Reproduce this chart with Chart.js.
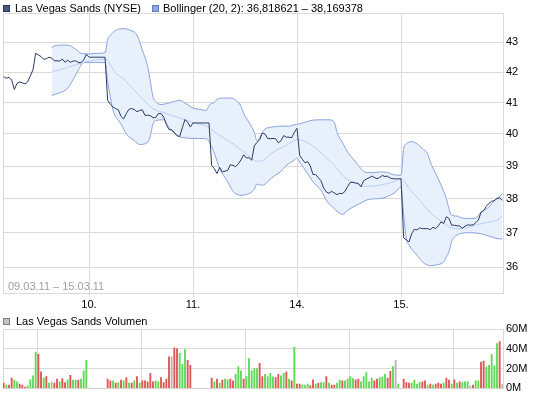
<!DOCTYPE html>
<html>
<head>
<meta charset="utf-8">
<script src="https://cdn.jsdelivr.net/npm/chart.js@4.4.1/dist/chart.umd.min.js"></script>
<style>
  body { margin: 0; background: #fff; }
  #wrap { position: relative; width: 545px; height: 398px; overflow: hidden;
          font-family: 'Liberation Sans', Arial, sans-serif; font-size: 11px; }
  #wrap canvas { position: absolute; left: 0; }
  .sq { position: absolute; width: 7px; height: 7px; box-sizing: border-box; border: 1px solid; }
  .txt { position: absolute; line-height: 11px; white-space: nowrap; color: #000; }
</style>
</head>
<body>
<div id="wrap">
  <canvas id="chart-price" width="545" height="312" style="top:0"></canvas>
  <canvas id="chart-volume" width="545" height="86" style="top:312px"></canvas>
  <div class="sq" style="left:3px;top:5px;background:#48577f;border-color:#2c3757"></div>
  <div class="txt" style="left:15px;top:3px">Las Vegas Sands (NYSE)</div>
  <div class="sq" style="left:152px;top:5px;background:#8fa8dd;border-color:#5d7bbd"></div>
  <div class="txt" style="left:163px;top:3px">Bollinger (20, 2): 36,818621 – 38,169378</div>
  <div class="txt" style="left:8px;top:281px;color:#a0a0a0">09.03.11 – 15.03.11</div>
  <div class="sq" style="left:3px;top:318px;background:#c4c4c4;border-color:#7d7d7d"></div>
  <div class="txt" style="left:16px;top:316px">Las Vegas Sands Volumen</div>
</div>
<script>
// 10-Minuten-Kurse, Index = Zeitschritt
const dayStarts = [32, 71, 110, 149];
const dayLabels = ['10.', '11.', '14.', '15.'];
const priceTicks = [36, 37, 38, 39, 40, 41, 42, 43];
const volumeTicks = [0, 20, 40, 60];

const price = [
    // 09.03.
    41.85, 41.80, 41.83, 41.74, 41.43, 41.63, 41.68, 41.65, 41.61, 41.68,
    41.88, 42.08, 42.63, 42.58, 42.52, 42.43, 42.45, 42.50, 42.47, 42.38,
    42.38, 42.37, 42.44, 42.33, 42.40, 42.33, 42.37, 42.38, 42.32, 42.32,
    42.41, 42.60,
    // 10.03.
    42.50, 42.50, 42.50, 42.50, 42.50, 42.50, 42.50,
    41.08, 40.95, 40.86, 40.81, 40.77, 40.56, 40.48, 40.65, 40.79, 40.81,
    40.78, 40.71, 40.75, 40.77, 40.59, 40.60, 40.58, 40.52, 40.52, 40.65,
    40.65, 40.54, 40.30, 40.14, 40.13, 40.05, 39.95, 39.92, 40.20, 40.46,
    40.37, 40.22,
    // 11.03.
    40.35, 40.35, 40.35, 40.35, 40.35, 40.35, 40.35,
    39.02, 38.92, 38.77, 38.96, 38.82, 38.84, 38.87, 39.04, 39.02, 38.98,
    39.07, 39.19, 39.35, 39.25, 39.26, 39.18, 39.63, 39.74, 39.82, 40.03,
    40.00, 39.86, 39.85, 39.86, 39.85, 39.72, 39.79, 39.95, 39.90, 39.90,
    39.88, 40.05,
    // 14.03.
    40.18, 39.33, 39.21, 39.10, 39.14, 39.00, 38.74, 38.74, 38.64, 38.55,
    38.33, 38.21, 38.17, 38.23, 38.18, 38.13, 38.17, 38.16, 38.23, 38.38,
    38.50, 38.50, 38.48, 38.47, 38.37, 38.55, 38.60, 38.64, 38.69, 38.65,
    38.61, 38.65, 38.71, 38.68, 38.69, 38.63, 38.61, 38.61, 38.61, 38.61,
    // 15.03.
    36.85, 36.79, 36.73, 36.97, 37.10, 37.08, 37.14, 37.12, 37.12, 37.12,
    37.09, 37.16, 37.12, 37.20, 37.32, 37.27, 37.47, 37.42, 37.22, 37.22,
    37.20, 37.20, 37.13, 37.19, 37.23, 37.22, 37.23, 37.29, 37.37, 37.60,
    37.65, 37.78, 37.87, 37.93, 37.95, 38.01, 38.03, 37.96,
];

// Bollinger (20, 2) [Index, Wert]
const bollUpper = [
    [18, 42.83], [19, 42.88], [22, 42.91], [24, 42.91], [27, 42.77], [29, 42.63],
    [32, 42.61], [35, 42.63], [38, 42.65], [39, 43.10], [40, 43.24], [42, 43.41],
    [45, 43.47], [47, 43.43], [50, 43.24], [52, 42.74], [54, 42.19], [55, 41.69],
    [56, 41.19], [57, 41.04], [59, 40.94], [61, 40.97], [64, 41.04], [66, 41.08],
    [68, 40.99], [71, 40.83], [74, 40.78], [76, 40.75], [77, 40.91], [79, 41.02],
    [80, 41.11], [82, 41.15], [85, 41.15], [87, 41.08], [89, 40.89], [90, 40.65],
    [92, 40.37], [94, 40.05], [95, 39.79], [97, 40.05], [98, 40.16], [100, 40.21],
    [102, 40.24], [105, 40.25], [107, 40.25], [109, 40.29], [111, 40.32], [114, 40.40],
    [116, 40.44], [119, 40.45], [122, 40.45], [124, 40.37], [125, 40.05], [127, 39.74],
    [129, 39.43], [131, 39.23], [134, 38.92], [136, 38.80], [139, 38.80], [141, 38.82],
    [144, 38.80], [146, 38.74], [148, 38.72], [149, 38.72], [150, 39.55], [151, 39.69],
    [153, 39.76], [155, 39.69], [157, 39.54], [159, 39.38], [160, 39.12], [162, 38.77],
    [164, 38.42], [166, 38.01], [167, 37.71], [168, 37.51], [170, 37.49], [172, 37.43],
    [175, 37.42], [177, 37.43], [179, 37.61], [180, 37.66], [182, 37.76], [184, 37.96],
    [186, 38.08], [187, 38.17],
];
const bollMiddle = [
    [18, 42.02], [22, 42.10], [26, 42.22], [30, 42.33], [34, 42.40], [38, 42.43],
    [42, 41.97], [45, 41.78], [48, 41.50], [52, 41.13], [56, 40.81], [61, 40.65],
    [68, 40.45], [71, 40.36], [76, 40.25], [81, 39.95], [86, 39.69], [91, 39.38],
    [95, 39.15], [97, 39.17], [101, 39.43], [106, 39.64], [110, 39.82], [112, 39.80],
    [116, 39.62], [120, 39.33], [124, 39.02], [127, 38.72], [130, 38.54], [132, 38.48],
    [134, 38.38], [139, 38.39], [144, 38.47], [147, 38.54], [149, 38.62], [152, 38.32],
    [156, 37.96], [160, 37.59], [164, 37.34], [167, 37.17], [170, 37.12], [174, 37.15],
    [177, 37.22], [181, 37.30], [185, 37.37], [187, 37.49],
];
const bollLower = [
    [18, 41.24], [21, 41.32], [24, 41.47], [26, 41.74], [28, 42.08], [30, 42.32],
    [32, 42.32], [35, 42.32], [38, 42.32], [39, 41.70], [40, 41.19], [41, 40.75],
    [44, 40.32], [46, 40.00], [49, 39.79], [51, 39.67], [54, 39.74], [55, 39.95],
    [56, 40.32], [57, 40.43], [60, 40.45], [62, 40.21], [65, 39.95], [68, 39.88],
    [71, 39.86], [76, 39.85], [78, 39.60], [79, 39.40], [81, 38.92], [84, 38.52],
    [86, 38.23], [89, 38.11], [91, 38.13], [94, 38.29], [95, 38.45], [97, 38.41],
    [99, 38.52], [101, 38.67], [104, 38.84], [106, 39.02], [109, 39.18], [110, 39.25],
    [111, 39.12], [114, 38.77], [116, 38.52], [119, 38.26], [121, 37.96], [124, 37.71],
    [126, 37.57], [127, 37.54], [129, 37.66], [131, 37.76], [134, 37.88], [137, 37.99],
    [141, 38.01], [145, 38.11], [147, 38.21], [149, 38.36], [150, 37.51], [151, 36.83],
    [152, 36.64], [155, 36.35], [157, 36.16], [160, 36.05], [162, 36.07], [165, 36.16],
    [166, 36.30], [167, 36.45], [168, 36.75], [169, 36.87], [171, 36.97], [175, 37.00],
    [179, 36.97], [182, 36.90], [185, 36.83], [187, 36.82],
];

// Volumen in Mio. Stück
const volume = [
    5.3, 3.3, 3.3, 10.3, 8.3, 6.7, 4.3, 3.3, 1.3, 2.7,
    8.7, 12.7, 36.7, 34.3, 16.7, 10.3, 12, 5.3, 6.7, 5.3,
    9.3, 6.7, 10, 6, 8.7, 13.3, 8.3, 8.3, 8.3, 9.3,
    17.7, 28.3,
    0, 0, 0, 0, 0, 0, 0,
    9.3, 7.7, 7.7, 5.3, 6, 8.3, 7.7, 11, 5.3, 5.3,
    7.7, 12, 5.3, 7.7, 7.7, 6.7, 15.3, 6.7, 7.7, 6.7,
    11, 6, 9.3, 32, 32, 41, 40, 35.3, 24.3, 39.3,
    28.3, 23.3,
    0, 0, 0, 0, 0, 0, 0,
    10.3, 6.7, 9.3, 5.3, 8.3, 9.3, 8.7, 9.3, 7.7, 14.3,
    22, 17.7, 9.3, 12, 30, 17.7, 20, 20, 25.3, 12,
    14.3, 12, 15.3, 11.7, 11, 14.3, 12.7, 15.3, 16.7, 9.3,
    7.7, 41.7,
    4.3, 4.3, 3.3, 3.3, 4.3, 2.7, 8.7, 4.3, 5, 6,
    6, 12, 5.3, 3.3, 3.3, 5.3, 8.3, 7.7, 7.7, 9.3,
    12, 10, 8.7, 9.3, 6.7, 12, 16, 6.7, 10.3, 7.7,
    9.3, 11, 11.7, 14.3, 10.3, 17.3, 22, 28.3, 4.3, 0,
    9.3, 6, 5.3, 5.3, 8.3, 4.3, 6, 6.7, 7.7, 3.3,
    4.3, 3.3, 4.3, 5.3, 4.3, 5.3, 10.3, 8.3, 4.3, 8.7,
    5.3, 6.7, 6, 6.7, 6.7, 2.7, 3.3, 7.7, 7.7, 26.7,
    27.7, 21.7, 23.3, 34.3, 22.7, 45.3, 47.3, 4.3,
];
// 1 = gestiegen, -1 = gefallen, 0 = unverändert
const volumeDir = [
    -1, 1, -1, -1, 1, 1, -1, -1, -1, 1,
    1, 1, 1, -1, -1, 1, -1, 1, 0, -1,
    -1, 1, -1, -1, 1, -1, 1, 1, -1, 1,
    1, 1,
    0, 0, 0, 0, 0, 0, 0,
    -1, -1, 1, -1, 1, -1, 1, -1, 1, -1,
    1, -1, 1, -1, -1, -1, -1, -1, 1, 1,
    -1, -1, -1, -1, 0, -1, -1, 1, 1, 1,
    -1, -1,
    0, 0, 0, 0, 0, 0, 0,
    -1, 1, -1, 1, -1, 1, 1, -1, -1, 1,
    1, 1, -1, 1, 1, 1, 1, 1, -1, -1,
    1, 1, 1, 1, -1, -1, 1, 1, -1, 1,
    -1, 1,
    -1, -1, 1, 1, 1, -1, -1, 1, -1, 1,
    1, -1, 1, -1, -1, 1, 1, -1, 1, 1,
    1, 1, -1, -1, 1, 1, 1, 1, 1, -1,
    -1, 1, 1, 1, -1, -1, 1, 0, 1, 0,
    -1, -1, -1, 1, 1, 1, 1, -1, -1, 1,
    -1, 1, -1, -1, -1, 1, -1, -1, 1, -1,
    1, -1, 1, 1, 1, 0, -1, 1, 1, -1,
    -1, 1, 1, 1, 1, 1, -1, 0,
];

const gridColor = '#dadada';
const dirColors = { '1': '#5fd957', '-1': '#e05555', '0': '#b8b8b8' };

Chart.defaults.font.family = "'Liberation Sans', Arial, sans-serif";
Chart.defaults.font.size = 11;
Chart.defaults.color = '#000';
Chart.defaults.animation = false;

// linke und obere Rahmenlinie
const frame = {
    id: 'frame',
    beforeDatasetsDraw(chart) {
        const { ctx, chartArea: a } = chart;
        ctx.save();
        ctx.strokeStyle = gridColor;
        ctx.lineWidth = 1;
        ctx.beginPath();
        ctx.moveTo(a.left + 0.5, a.bottom);
        ctx.lineTo(a.left + 0.5, a.top + 0.5);
        ctx.lineTo(a.right, a.top + 0.5);
        ctx.stroke();
        ctx.restore();
    },
};

function dayAxis(showLabels) {
    return {
        type: 'linear',
        min: -0.25,
        max: 187.25,
        offset: false,
        afterBuildTicks: s => { s.ticks = dayStarts.map(v => ({ value: v })); },
        afterFit: s => { s.height = showLabels ? 19 : 0; },
        grid: { color: gridColor, tickLength: 4, drawTicks: showLabels },
        border: { color: gridColor },
        ticks: {
            display: showLabels,
            padding: 1,
            maxRotation: 0,
            autoSkip: false,
            callback: v => dayLabels[dayStarts.indexOf(v)],
        },
    };
}

const toPoints = pairs => pairs.map(([x, y]) => ({ x, y }));

new Chart(document.getElementById('chart-price'), {
    type: 'line',
    data: {
        datasets: [{
            label: 'Las Vegas Sands (NYSE)',
            data: price.map((y, x) => ({ x, y })),
            borderColor: '#2b3a63',
            borderWidth: 1,
            pointRadius: 0,
            tension: 0,
            fill: false,
            order: 0,
        }, {
            label: 'Bollinger oben',
            data: toPoints(bollUpper),
            borderColor: '#89a3db',
            backgroundColor: '#e8f0fc',
            borderWidth: 1,
            pointRadius: 0,
            cubicInterpolationMode: 'monotone',
            fill: 3,
            order: 1,
        }, {
            label: 'Bollinger Mitte',
            data: toPoints(bollMiddle),
            borderColor: '#b8cef4',
            borderWidth: 1,
            pointRadius: 0,
            cubicInterpolationMode: 'monotone',
            fill: false,
            order: 2,
        }, {
            label: 'Bollinger unten',
            data: toPoints(bollLower),
            borderColor: '#89a3db',
            borderWidth: 1,
            pointRadius: 0,
            cubicInterpolationMode: 'monotone',
            fill: false,
            order: 3,
        }],
    },
    options: {
        responsive: false,
        devicePixelRatio: 1,
        events: [],
        layout: { padding: { left: 3, top: 13, right: 0, bottom: 0 } },
        plugins: {
            legend: { display: false },
            tooltip: { enabled: false },
            filler: { drawTime: 'beforeDatasetsDraw' },
        },
        scales: {
            x: dayAxis(true),
            y: {
                type: 'logarithmic',
                position: 'right',
                min: 35.28,
                max: 44.01,
                afterBuildTicks: s => { s.ticks = priceTicks.map(v => ({ value: v })); },
                afterFit: s => { s.width = 42; },
                grid: { color: gridColor, drawTicks: false },
                border: { color: gridColor },
                ticks: { padding: 3, callback: v => String(v) },
            },
        },
    },
    plugins: [frame],
});

new Chart(document.getElementById('chart-volume'), {
    type: 'bar',
    data: {
        datasets: [{
            label: 'Las Vegas Sands Volumen',
            data: volume.map((y, x) => ({ x, y })),
            backgroundColor: ctx => dirColors[String(volumeDir[ctx.dataIndex])],
            barThickness: 1.2,
            borderWidth: 0,
        }],
    },
    options: {
        responsive: false,
        devicePixelRatio: 1,
        events: [],
        layout: { padding: { left: 3, top: 17, right: 0, bottom: 9 } },
        plugins: {
            legend: { display: false },
            tooltip: { enabled: false },
        },
        scales: {
            x: dayAxis(false),
            y: {
                position: 'right',
                min: 0,
                max: 60,
                afterBuildTicks: s => { s.ticks = volumeTicks.map(v => ({ value: v })); },
                afterFit: s => { s.width = 42; },
                grid: { color: gridColor, drawTicks: false },
                border: { color: gridColor },
                ticks: { padding: 3, callback: v => v + 'M' },
            },
        },
    },
    plugins: [frame],
});
</script>
</body>
</html>
